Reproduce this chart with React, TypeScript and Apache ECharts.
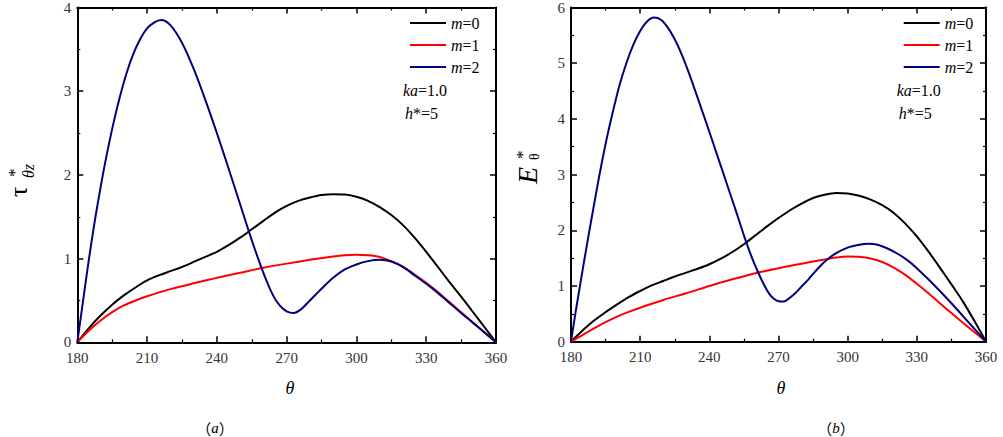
import React, { useEffect, useRef } from "react";
import * as echarts from "echarts";

// ---- data ----
const thetaTicks = [180, 210, 240, 270, 300, 330, 360];
const legendNames = ["m=0", "m=1", "m=2"];
const lineColors = ["#000000", "#ff0000", "#000080"];

// (a) tau*_theta z
const tauM0: number[][] = [
  [180, 0], [185, 0.17], [190, 0.32], [195, 0.45], [200, 0.56], [205, 0.655], [210, 0.74],
  [215, 0.8], [220, 0.85], [225, 0.9], [230, 0.96], [235, 1.02], [240, 1.08], [245, 1.16],
  [250, 1.25], [255, 1.35], [260, 1.45], [265, 1.55], [270, 1.63], [275, 1.69], [280, 1.73],
  [285, 1.76], [290, 1.77], [295, 1.765], [300, 1.74], [305, 1.69], [310, 1.615], [315, 1.52],
  [320, 1.4], [325, 1.25], [330, 1.08], [335, 0.9], [340, 0.72], [345, 0.545], [350, 0.365],
  [355, 0.183], [360, 0],
];
const tauM1: number[][] = [
  [180, 0], [185, 0.14], [190, 0.26], [195, 0.36], [200, 0.44], [205, 0.5], [210, 0.55],
  [220, 0.635], [230, 0.705], [240, 0.77], [250, 0.83], [260, 0.89], [270, 0.94], [280, 0.985],
  [290, 1.025], [295, 1.04], [300, 1.045], [305, 1.04], [310, 1.02], [315, 0.97], [320, 0.9],
  [325, 0.81], [330, 0.71], [335, 0.6], [340, 0.48], [345, 0.36], [350, 0.24], [355, 0.12], [360, 0],
];
const tauM2: number[][] = [
  [180, 0], [182, 0.4], [184, 0.8], [186, 1.18], [188, 1.53], [190, 1.85], [192, 2.15],
  [195, 2.55], [198, 2.9], [201, 3.2], [204, 3.44], [207, 3.62], [210, 3.75], [213, 3.82],
  [216, 3.85], [220, 3.79], [225, 3.58], [230, 3.27], [235, 2.9], [240, 2.5], [245, 2.08],
  [250, 1.65], [255, 1.22], [260, 0.83], [264, 0.57], [267, 0.44], [270, 0.37], [273, 0.35],
  [276, 0.39], [280, 0.5], [285, 0.64], [290, 0.77], [295, 0.87], [300, 0.93], [305, 0.97],
  [310, 0.985], [315, 0.965], [320, 0.9], [325, 0.8], [330, 0.7], [335, 0.59], [340, 0.47],
  [345, 0.35], [350, 0.235], [355, 0.118], [360, 0],
];

// (b) E*_theta
const eM0: number[][] = [
  [180, 0], [185, 0.2], [190, 0.38], [195, 0.53], [200, 0.67], [205, 0.8], [210, 0.91],
  [215, 1.01], [220, 1.09], [225, 1.17], [230, 1.24], [235, 1.31], [240, 1.39], [245, 1.49],
  [250, 1.61], [255, 1.75], [260, 1.91], [265, 2.07], [270, 2.22], [275, 2.36], [280, 2.48],
  [285, 2.58], [290, 2.64], [295, 2.67], [300, 2.66], [305, 2.62], [310, 2.55], [315, 2.45],
  [320, 2.31], [325, 2.12], [330, 1.89], [335, 1.62], [340, 1.33], [345, 1.03], [350, 0.72],
  [355, 0.37], [360, 0],
];
const eM1: number[][] = [
  [180, 0], [185, 0.12], [190, 0.24], [195, 0.35], [200, 0.45], [205, 0.535], [210, 0.61],
  [220, 0.75], [230, 0.87], [240, 1.0], [250, 1.12], [260, 1.23], [270, 1.32], [280, 1.4],
  [290, 1.475], [295, 1.51], [300, 1.53], [305, 1.525], [310, 1.495], [315, 1.43], [320, 1.33],
  [325, 1.2], [330, 1.04], [335, 0.87], [340, 0.69], [345, 0.515], [350, 0.34], [355, 0.17], [360, 0],
];
const eM2: number[][] = [
  [180, 0], [182, 0.53], [184, 1.03], [186, 1.52], [188, 2.0], [190, 2.46], [192, 2.92],
  [195, 3.55], [198, 4.1], [201, 4.6], [204, 5.0], [207, 5.33], [210, 5.58], [213, 5.75],
  [216, 5.82], [219, 5.78], [222, 5.64], [225, 5.43], [228, 5.16], [231, 4.84], [234, 4.49],
  [237, 4.13], [240, 3.77], [243, 3.4], [246, 3.03], [249, 2.66], [252, 2.29], [255, 1.91],
  [258, 1.56], [261, 1.26], [264, 1.0], [266, 0.86], [268, 0.77], [270, 0.725], [272, 0.72],
  [274, 0.76], [277, 0.86], [280, 0.99], [283, 1.12], [287, 1.31], [291, 1.47], [295, 1.59],
  [300, 1.69], [305, 1.74], [309, 1.76], [313, 1.74], [318, 1.66], [322, 1.57], [326, 1.46],
  [330, 1.32], [335, 1.12], [340, 0.91], [345, 0.69], [350, 0.46], [355, 0.23], [360, 0],
];

const FONT = "Liberation Serif";
const CJK = "Noto Sans CJK SC";

function xAxisDef(gridIndex: number, position: "bottom" | "top") {
  return {
    type: "value",
    gridIndex,
    position,
    min: thetaTicks[0],
    max: thetaTicks[thetaTicks.length - 1],
    interval: 30,
    axisLine: { show: true, onZero: false, lineStyle: { color: "#000", width: 2 } },
    axisTick: { show: true, inside: true, length: 6, lineStyle: { color: "#000", width: 1.5 } },
    minorTick: { show: true, splitNumber: 2, length: 3, lineStyle: { color: "#000", width: 1.2 } },
    axisLabel: {
      show: position === "bottom",
      color: "#333",
      fontFamily: FONT,
      fontSize: 15,
      margin: 8,
    },
    splitLine: { show: false },
    minorSplitLine: { show: false },
  };
}

function yAxisDef(gridIndex: number, position: "left" | "right", max: number) {
  return {
    type: "value",
    gridIndex,
    position,
    min: 0,
    max,
    interval: 1,
    axisLine: { show: true, onZero: false, lineStyle: { color: "#000", width: 2 } },
    axisTick: { show: true, inside: true, length: 6, lineStyle: { color: "#000", width: 1.5 } },
    minorTick: { show: true, splitNumber: 2, length: 3, lineStyle: { color: "#000", width: 1.2 } },
    axisLabel: {
      show: position === "left",
      color: "#333",
      fontFamily: FONT,
      fontSize: 15,
      margin: 6,
    },
    splitLine: { show: false },
    minorSplitLine: { show: false },
  };
}

function lineSeries(name: string, color: string, data: number[][], xi: number, yi: number) {
  return {
    type: "line",
    name,
    data,
    xAxisIndex: xi,
    yAxisIndex: yi,
    showSymbol: false,
    symbol: "none",
    smooth: 0.3,
    lineStyle: { color, width: 2 },
    itemStyle: { color },
    z: 3,
  };
}

function legendDef(left: number) {
  return {
    left,
    top: 10,
    orient: "vertical",
    icon: "rect",
    itemWidth: 36,
    itemHeight: 2,
    itemGap: 6,
    data: legendNames,
    selectedMode: false,
    formatter: (n: string) => "{i|m}{r|" + n.slice(1) + "}",
    textStyle: {
      color: "#000",
      fontFamily: FONT,
      fontSize: 16,
      rich: {
        i: { fontStyle: "italic", fontFamily: FONT, fontSize: 16, color: "#000" },
        r: { fontFamily: FONT, fontSize: 16, color: "#000" },
      },
    },
  };
}

function note(x: number, y: number, text: string) {
  return {
    type: "text",
    x,
    y,
    style: {
      text,
      fontFamily: FONT,
      fontSize: 16,
      fill: "#000",
      align: "left",
      verticalAlign: "middle",
      rich: {
        i: { fontStyle: "italic", fontFamily: FONT, fontSize: 16, fill: "#000" },
        r: { fontFamily: FONT, fontSize: 16, fill: "#000" },
      },
    },
  };
}

function centerText(x: number, y: number, text: string, size: number, family: string) {
  return {
    type: "text",
    x,
    y,
    style: {
      text,
      fontFamily: family,
      fontSize: size,
      fill: "#000",
      align: "center",
      verticalAlign: "middle",
      rich: {
        i: { fontStyle: "italic", fontFamily: FONT, fontSize: size, fill: "#000" },
        r: { fontFamily: family, fontSize: size, fill: "#000" },
      },
    },
  };
}

function plain(x: number, y: number, text: string, size: number, italic: boolean) {
  return {
    type: "text",
    x,
    y,
    style: {
      text,
      fontFamily: FONT,
      fontSize: size,
      fontStyle: italic ? "italic" : "normal",
      fill: "#000",
      align: "left",
      verticalAlign: "middle",
    },
  };
}

export default function App() {
  const ref = useRef<HTMLDivElement>(null);
  useEffect(() => {
    document.body.style.margin = "0";
    if (!ref.current) return;
    const chart = echarts.init(ref.current, null, { renderer: "svg" });
    const offset = 493.7;
    chart.setOption({
      animation: false,
      backgroundColor: "#fff",
      textStyle: { fontFamily: FONT },
      grid: [
        { left: 77.3, top: 7.3, width: 418.7, height: 335, containLabel: false },
        { left: 571, top: 6.7, width: 415, height: 335, containLabel: false },
      ],
      xAxis: [xAxisDef(0, "bottom"), xAxisDef(0, "top"), xAxisDef(1, "bottom"), xAxisDef(1, "top")],
      yAxis: [yAxisDef(0, "left", 4), yAxisDef(0, "right", 4), yAxisDef(1, "left", 6), yAxisDef(1, "right", 6)],
      legend: [legendDef(405), legendDef(405 + offset)],
      series: [
        lineSeries(legendNames[0], lineColors[0], tauM0, 0, 0),
        lineSeries(legendNames[1], lineColors[1], tauM1, 0, 0),
        lineSeries(legendNames[2], lineColors[2], tauM2, 0, 0),
        lineSeries(legendNames[0], lineColors[0], eM0, 2, 2),
        lineSeries(legendNames[1], lineColors[1], eM1, 2, 2),
        lineSeries(legendNames[2], lineColors[2], eM2, 2, 2),
      ],
      graphic: [
        note(403, 90, "{i|ka}{r|=1.0}"),
        note(405, 113, "{i|h}{r|*=5}"),
        note(403 + offset, 90, "{i|ka}{r|=1.0}"),
        note(405 + offset, 113, "{i|h}{r|*=5}"),
        centerText(290, 388, "{i|θ}", 18, FONT),
        centerText(781, 388, "{i|θ}", 18, FONT),
        centerText(215, 428, "{r|（}{i|a}{r|）}", 15, CJK),
        centerText(836, 428, "{r|（}{i|b}{r|）}", 15, CJK),
        {
          type: "group",
          x: 18.5,
          y: 197,
          rotation: Math.PI / 2,
          children: [
            plain(0, 0, "τ", 26, false),
            plain(20, -4, "*", 17, false),
            plain(19, 10, "θz", 16, true),
          ],
        },
        {
          type: "group",
          x: 527,
          y: 184,
          rotation: Math.PI / 2,
          children: [
            plain(0, 0, "E", 28, true),
            plain(25, -5, "*", 17, false),
            plain(24, 7, "θ", 14, false),
          ],
        },
      ],
    });
    return () => chart.dispose();
  }, []);
  return <div ref={ref} style={{ width: 1003, height: 437 }} />;
}
